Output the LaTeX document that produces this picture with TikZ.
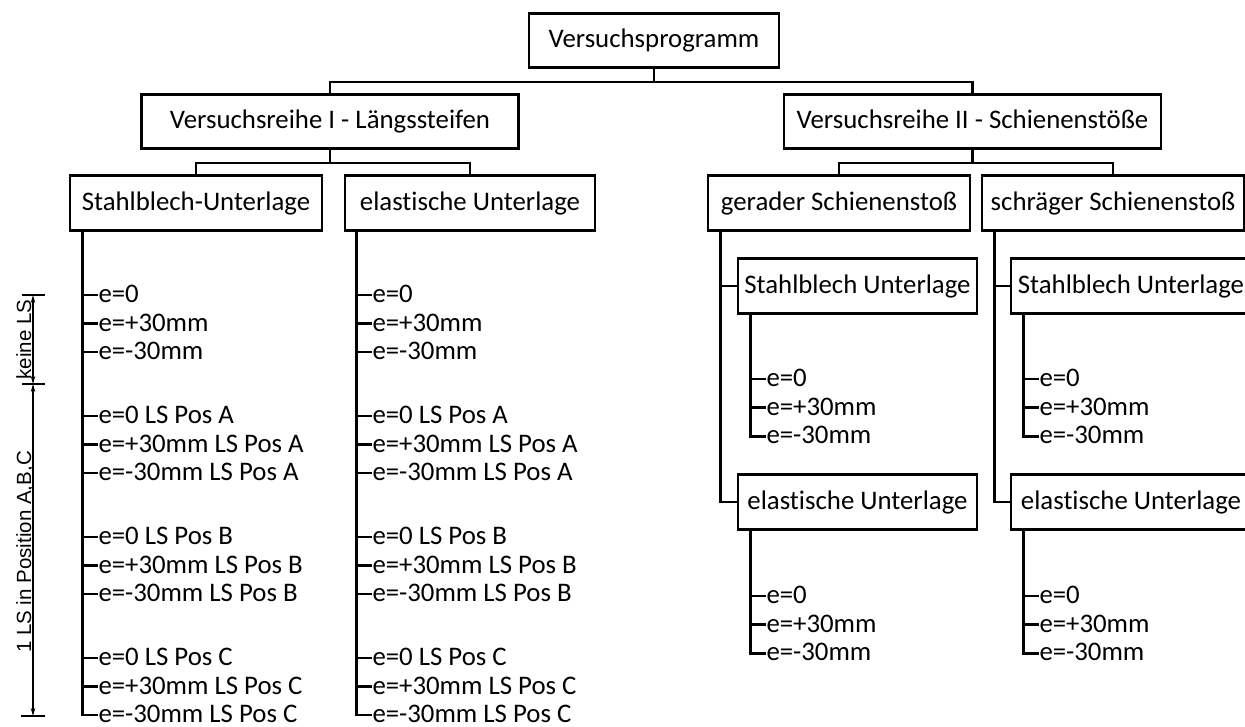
\documentclass[tikz,border=0pt]{standalone}
\usepackage{fontspec}
\setmainfont{Carlito}[RawFeature=-liga]
\newfontfamily\dimfont{Liberation Sans}
\usetikzlibrary{arrows.meta}
\begin{document}
\begin{tikzpicture}[x=1pt,y=-1pt,
  box/.style={draw, line width=2.8pt, minimum height=54.5pt, inner sep=0pt,
    font=\fontsize{26.8}{30}\selectfont, text height=19.5pt, text depth=4.5pt},
  leaf/.style={anchor=west, inner sep=0.5pt, outer sep=0pt,
    font=\fontsize{26.8}{30}\selectfont, text height=17pt, text depth=2pt},
  tree/.style={line width=2.8pt},
  dimline/.style={line width=1.4pt, {Stealth[length=8pt,width=4.5pt]}-{Stealth[length=8pt,width=4.5pt]}},
  dimtick/.style={line width=2.2pt},
  dimlabel/.style={rotate=90, anchor=base, inner sep=0pt, font=\dimfont\fontsize{20.5}{22}\selectfont}]
\useasboundingbox (0,0) rectangle (1245,727);
\clip (0,0) rectangle (1245,727);

% boxes
\node[box, minimum width=250pt] (P) at (654,40.5) {Versuchsprogramm};
\node[box, minimum width=377pt] (V1) at (330,121.5) {Versuchsreihe I - Längssteifen};
\node[box, minimum width=377pt] (V2) at (972.5,121.5) {Versuchsreihe II - Schienenstöße};
\node[box, minimum width=252pt] (A1) at (196,203) {Stahlblech-Unterlage};
\node[box, minimum width=250pt] (A2) at (470,203) {elastische Unterlage};
\node[box, minimum width=262pt] (B1) at (839,203) {gerader Schienenstoß};
\node[box, minimum width=262pt] (B2) at (1113,203) {schräger Schienenstoß};
\node[box, minimum width=239pt] (S1) at (857.5,286) {Stahlblech Unterlage};
\node[box, minimum width=239pt] (E1) at (857.5,502) {elastische Unterlage};
\node[box, minimum width=240pt] (S2) at (1131,286) {Stahlblech Unterlage};
\node[box, minimum width=240pt] (E2) at (1131,502) {elastische Unterlage};

% level connectors
\coordinate (j0) at (654,82);
\draw[tree] (P.south) -- (j0);
\draw[tree] (V1.north) |- (j0) -| (V2.north);
\coordinate (j1) at (V1.south |- 0,163);
\draw[tree] (V1.south) -- (j1);
\draw[tree] (A1.north) |- (j1) -| (A2.north);
\coordinate (j2) at (V2.south |- 0,163);
\draw[tree] (V2.south) -- (j2);
\draw[tree] (B1.north) |- (j2) -| (B2.north);

% stems
\coordinate (a1s) at ([xshift=14pt]A1.south west);
\coordinate (a2s) at ([xshift=13pt]A2.south west);
\coordinate (b1s) at ([xshift=14pt]B1.south west);
\coordinate (b2s) at ([xshift=14pt]B2.south west);
\coordinate (s1s) at ([xshift=14pt]S1.south west);
\coordinate (s2s) at ([xshift=14pt]S2.south west);
\coordinate (e1s) at ([xshift=14pt]E1.south west);
\coordinate (e2s) at ([xshift=14pt]E2.south west);

\draw[tree] (b1s) |- (S1.west);
\draw[tree] (b1s) |- (E1.west);
\draw[tree] (b2s) |- (S2.west);
\draw[tree] (b2s) |- (E2.west);

% left leaves
\foreach \t [count=\i] in {e=0, e=+30mm, e=-30mm, e=0 LS Pos A, e=+30mm LS Pos A, e=-30mm LS Pos A, e=0 LS Pos B, e=+30mm LS Pos B, e=-30mm LS Pos B, e=0 LS Pos C, e=+30mm LS Pos C, e=-30mm LS Pos C}{
  \pgfmathsetmacro\g{int((\i-1)/3)}
  \pgfmathsetmacro\k{int(mod(\i-1,3))}
  \pgfmathsetmacro\yy{295+\g*121+\k*28.5}
  \node[leaf] (la-\i) at (98,\yy) {\t};
  \node[leaf] (lb-\i) at (372,\yy) {\t};
}
\draw[tree] (a1s) |- (la-12.west);
\draw[tree] (a2s) |- (lb-12.west);
\foreach \i in {1,...,11}{
  \draw[tree] (a1s |- la-\i.west) -- (la-\i.west);
  \draw[tree] (a2s |- lb-\i.west) -- (lb-\i.west);
}

% right leaves
\foreach \t [count=\i] in {e=0, e=+30mm, e=-30mm}{
  \pgfmathsetmacro\ya{379+(\i-1)*28.7}
  \pgfmathsetmacro\yb{596+(\i-1)*28.7}
  \node[leaf] (rs1-\i) at (766,\ya) {\t};
  \node[leaf] (rs2-\i) at (1039,\ya) {\t};
  \node[leaf] (re1-\i) at (766,\yb) {\t};
  \node[leaf] (re2-\i) at (1039,\yb) {\t};
}
\draw[tree] (s1s) |- (rs1-3.west);
\draw[tree] (s2s) |- (rs2-3.west);
\draw[tree] (e1s) |- (re1-3.west);
\draw[tree] (e2s) |- (re2-3.west);
\foreach \i in {1,2}{
  \draw[tree] (s1s |- rs1-\i.west) -- (rs1-\i.west);
  \draw[tree] (s2s |- rs2-\i.west) -- (rs2-\i.west);
  \draw[tree] (e1s |- re1-\i.west) -- (re1-\i.west);
  \draw[tree] (e2s |- re2-\i.west) -- (re2-\i.west);
}

% dimension annotation
\coordinate (d0) at (33,295);
\coordinate (d1) at (33,384);
\coordinate (d2) at (33,716);
\draw[dimline] (d0) -- (d1);
\draw[dimline] (d1) -- (d2);
\draw[dimtick] ([xshift=-11pt]d0) -- ([xshift=12pt]d0);
\draw[dimtick] ([xshift=-11pt]d1) -- ([xshift=12pt]d1);
\draw[dimtick] ([xshift=-12pt]d2) -- ([xshift=12pt]d2);
\node[dimlabel] (kl) at (31,339.5) {keine LS};
\node[dimlabel] (pl) at (31,552) {1 LS in Position A,B,C};
\end{tikzpicture}
\end{document}
